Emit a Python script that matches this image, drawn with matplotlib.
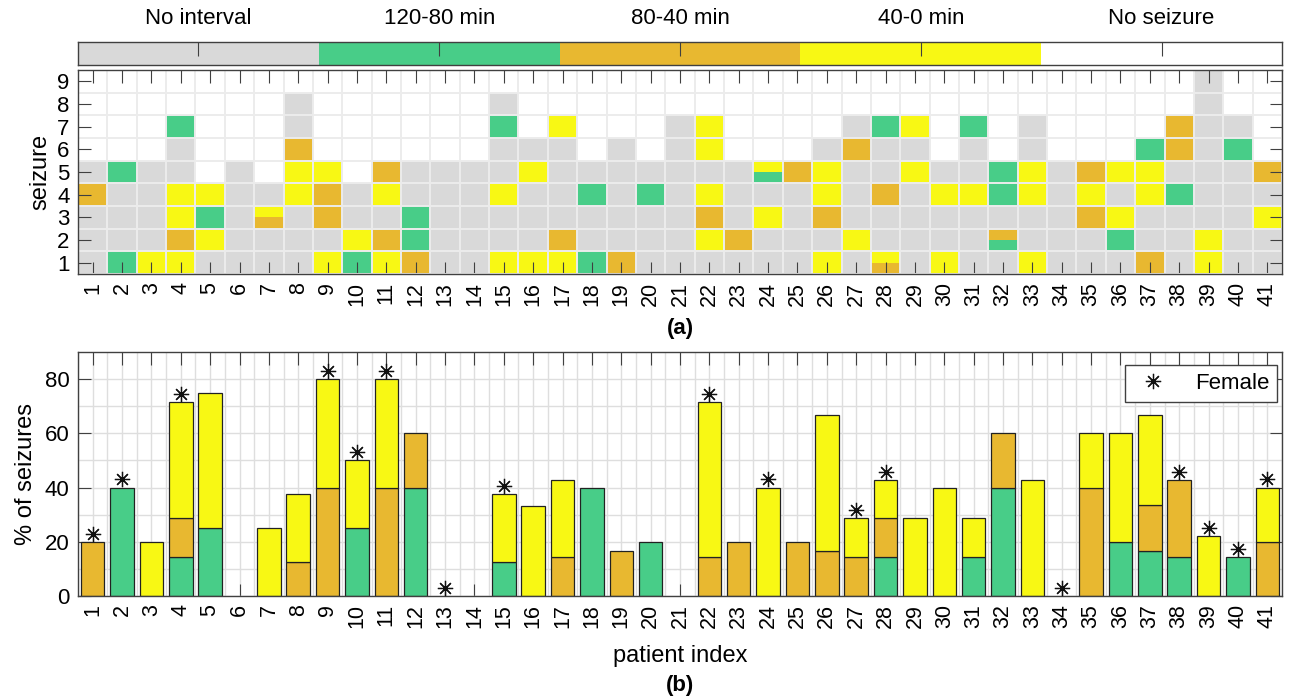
import numpy as np
import matplotlib
matplotlib.use("Agg")
import matplotlib.pyplot as plt
from matplotlib.colors import ListedColormap
from matplotlib.lines import Line2D

plt.rcParams['font.family'] = ['Liberation Sans', 'DejaVu Sans']

# --- data ---------------------------------------------------------------
patients = list(range(1, 42))

# per patient, seizure 1 (bottom) upwards:
# '-' no interval, 'G' 120-80 min, 'O' 80-40 min, 'Y' 40-0 min
seizures = [
    "---O-", "G---G", "Y----", "YOYY--G", "-YGY", "-----", "--Y-", "---YYO--",
    "Y-OOY", "GY--", "YO-YO", "OGG--", "-----", "-----", "Y--Y--G-", "Y---Y-",
    "YO----Y", "G--G-", "O-----", "---G-", "-------", "-YOY-YY", "-O---", "--Y-Y",
    "----O", "Y-OYY-", "-Y---O-", "Y--O--G", "----Y-Y", "Y--Y-", "---Y--G", "-O-GG",
    "Y--YY--", "-----", "--OYO", "-GY-Y", "O--YYG", "---G-OO", "YY-------", "-----G-",
    "--Y-O",
]
# cells drawn in two colours: (patient, seizure, lower-half colour)
split_cells = [(7, 3, 'O'), (24, 5, 'G'), (28, 1, 'O'), (32, 2, 'G')]

female = [1, 2, 4, 9, 10, 11, 13, 15, 22, 24, 27, 28, 34, 38, 39, 40, 41]

pct_120_80 = [0, 40, 0, 14.3, 25, 0, 0, 0, 0, 25, 0, 40, 0, 0, 12.5, 0, 0, 40, 0, 20, 0,
              0, 0, 0, 0, 0, 0, 14.3, 0, 0, 14.3, 40, 0, 0, 0, 20, 16.7, 14.3, 0, 14.3, 0]
pct_80_40 = [20, 0, 0, 14.3, 0, 0, 0, 12.5, 40, 0, 40, 20, 0, 0, 0, 0, 14.3, 0, 16.7, 0, 0,
             14.3, 20, 0, 20, 16.7, 14.3, 14.3, 0, 0, 0, 20, 0, 0, 40, 0, 16.7, 28.6, 0, 0, 20]
pct_40_0 = [0, 0, 20, 42.9, 50, 0, 25, 25, 40, 25, 40, 0, 0, 0, 25, 33.3, 28.6, 0, 0, 0, 0,
            57.1, 0, 40, 0, 50, 14.3, 14.3, 28.6, 40, 14.3, 0, 42.9, 0, 20, 40, 33.3, 0, 22.2, 0, 20]

legend_labels = ["No interval", "120-80 min", "80-40 min", "40-0 min", "No seizure"]

# --- style --------------------------------------------------------------
GRAY, GREEN, ORANGE, YELLOW, WHITE = '#d9d9d9', '#48cd88', '#e8b830', '#f8f814', '#ffffff'
cmap = ListedColormap([GRAY, GREEN, ORANGE, YELLOW, WHITE])
code = {'-': 0, 'G': 1, 'O': 2, 'Y': 3}
AX_COL = '#404040'
W, H = 1302, 699
FS = 15.5

fig = plt.figure(figsize=(W / 100, H / 100), dpi=100)


def box(ax):
    for s in ax.spines.values():
        s.set_color(AX_COL)
        s.set_linewidth(1.0)


# --- colour key ---------------------------------------------------------
axk = fig.add_axes([78 / W, 1 - 65 / H, 1204 / W, 23 / H])
axk.pcolormesh(np.arange(6), [0, 1], np.arange(5).reshape(1, 5), cmap=cmap, vmin=-0.5, vmax=4.5)
axk.set_xlim(0, 5)
axk.set_ylim(0, 1)
axk.xaxis.tick_top()
axk.set_xticks(np.arange(5) + 0.5, legend_labels, fontsize=16)
axk.tick_params(axis='x', direction='in', length=10, pad=9, color=AX_COL)
axk.set_yticks([])
box(axk)

# --- (a) seizure map ----------------------------------------------------
grid = np.full((18, len(patients)), 4)
for j, s in enumerate(seizures):
    for i, c in enumerate(s):
        grid[2 * i, j] = code[c]
        grid[2 * i + 1, j] = code[c]
for p, s, c in split_cells:
    grid[2 * (s - 1), p - 1] = code[c]

axa = fig.add_axes([78 / W, 1 - 274 / H, 1204 / W, 204 / H])
axa.pcolormesh(np.arange(0.5, 42.5), np.arange(0.5, 9.6, 0.5), grid, cmap=cmap, vmin=-0.5, vmax=4.5)
axa.set_xlim(0.5, 41.5)
axa.set_ylim(0.5, 9.5)
axa.set_xticks(patients, [str(p) for p in patients], rotation=90, fontsize=FS, va='top')
axa.set_yticks(range(1, 10), [str(i) for i in range(1, 10)], fontsize=16)
axa.set_xticks(np.arange(0.5, 42), minor=True)
axa.set_yticks(np.arange(0.5, 10), minor=True)
axa.grid(which='minor', color='#ececec', lw=1.4)
axa.tick_params(which='major', direction='in', length=9, top=True, right=True, color=AX_COL, pad=6)
axa.tick_params(which='minor', length=0)
axa.set_ylabel('seizure', fontsize=17, labelpad=4)
box(axa)
fig.text(680 / W, 1 - 328 / H, '(a)', fontsize=16, fontweight='bold', ha='center', va='center')

# --- (b) percentages ----------------------------------------------------
axb = fig.add_axes([78 / W, 1 - 596 / H, 1204 / W, 244 / H])
g = np.array(pct_120_80)
o = np.array(pct_80_40)
y = np.array(pct_40_0)


def seg(vals, bottom, color):
    lw = np.where(vals > 0, 0.9, 0.0)
    axb.bar(patients, vals, bottom=bottom, width=0.8, color=color,
            edgecolor='#222222', linewidth=lw, zorder=2)


seg(g, 0, GREEN)
seg(o, g, ORANGE)
seg(y, g + o, YELLOW)
total = g + o + y
fidx = np.array(female) - 1
star = (8, 2, 0)
axb.plot(np.array(female), total[fidx] + 3, ls='none', marker=star, ms=11, mew=0.9,
         color='#111111', zorder=3)
axb.set_xlim(0.5, 41.5)
axb.set_ylim(0, 90)
axb.set_xticks(patients, [str(p) for p in patients], rotation=90, fontsize=FS, va='top')
axb.set_yticks([0, 20, 40, 60, 80], ['0', '20', '40', '60', '80'], fontsize=16)
axb.set_xticks(np.arange(0.5, 42), minor=True)
axb.set_yticks(np.arange(10, 90, 20), minor=True)
axb.set_axisbelow(True)
axb.grid(which='both', color='#dedede', lw=1.0)
axb.tick_params(which='major', direction='in', length=9, top=True, right=True, color=AX_COL, pad=6)
axb.tick_params(which='minor', length=0)
axb.set_ylabel('% of seizures', fontsize=17, labelpad=6)
box(axb)
leg = axb.legend(handles=[Line2D([], [], ls='none', marker=star, ms=11, mew=0.9, color='#111111')],
                 labels=['Female'], loc='upper right', bbox_to_anchor=(1 - 5 / 1204, 1 - 13 / 244),
                 borderaxespad=0, fancybox=False, framealpha=1, edgecolor=AX_COL,
                 fontsize=16, handlelength=1.8, handletextpad=1.0, borderpad=0.35)
leg.get_frame().set_linewidth(1.0)
fig.text(680 / W, 1 - 656 / H, 'patient index', fontsize=17, ha='center', va='center')
fig.text(680 / W, 1 - 686 / H, '(b)', fontsize=16, fontweight='bold', ha='center', va='center')

fig.savefig('out.png', dpi=100, facecolor='white')
plt.close(fig)
